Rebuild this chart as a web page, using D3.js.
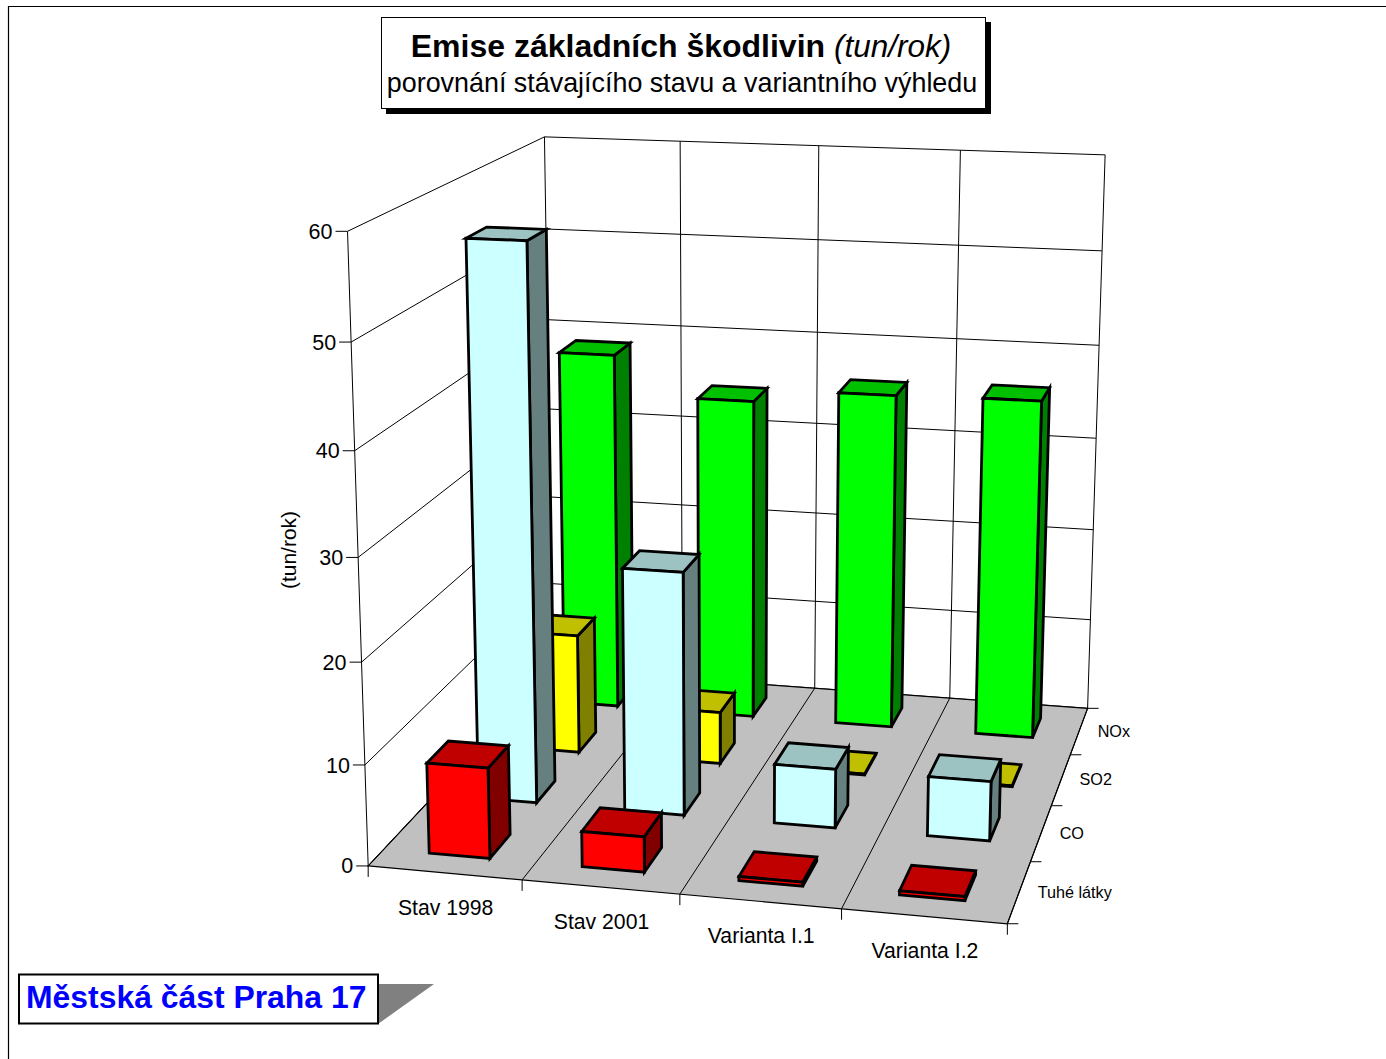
<!DOCTYPE html>
<html>
<head>
<meta charset="utf-8">
<style>
html, body { margin: 0; padding: 0; background: #fff; overflow: hidden; }
text { font-family: "Liberation Sans", Arial, sans-serif; fill: #000; }
</style>
<script src="https://cdn.jsdelivr.net/npm/d3@7"></script>
</head>
<body>
<div id="chart"></div>
<script>
// data
const categories = ["Stav 1998", "Stav 2001", "Varianta I.1", "Varianta I.2"];
const seriesNames = ["Tuhé látky", "CO", "SO2", "NOx"]; // front to back
const tuheLatky = [9, 3.5, 0.4, 0.4];
const co = [56.2, 24.7, 6, 6];
const so2 = [12.6, 5.5, 0.1, 0.1];
const nox = [38.8, 34.6, 36, 36.2];
const valueTicks = [0, 10, 20, 30, 40, 50, 60];
const seriesValues = [tuheLatky, co, so2, nox];

const config = {
    "red": ["#ff0000", "#c00000", "#800000"],
    "cyan": ["#ccffff", "#9cc2c2", "#668080"],
    "yellow": ["#ffff00", "#c0c000", "#808000"],
    "green": ["#00ff00", "#00c000", "#008000"]
};
const seriesColors = [config.red, config.cyan, config.yellow, config.green];

const width = 1386, height = 1059;
const svg = d3.select("#chart").append("svg")
    .attr("width", width)
    .attr("height", height)
    .style("display", "block");

// camera: where the box corners land on screen, [u, v, h, x, y]
const calib = [
    [0, 0, 0, 369, 866],
    [1, 0, 0, 1007, 924],
    [1, 1, 0, 1088, 708],
    [0, 1, 0, 552, 669],
    [0, 0, 1, 347, 231],
    [0, 1, 1, 545, 137],
    [1, 1, 1, 1105, 155]
];

// least squares for the 3x4 projection (last entry fixed to 1)
function solveProjection(pts) {
    const rows = [], rhs = [];
    pts.forEach(([u, v, h, x, y]) => {
        const X = x / 1000, Y = y / 1000;
        rows.push([u, v, h, 1, 0, 0, 0, 0, -X * u, -X * v, -X * h]); rhs.push(X);
        rows.push([0, 0, 0, 0, u, v, h, 1, -Y * u, -Y * v, -Y * h]); rhs.push(Y);
    });
    const n = 11;
    const A = d3.range(n).map(i => d3.range(n + 1).map(j =>
        d3.sum(rows, (r, k) => r[i] * (j < n ? r[j] : rhs[k]))));
    for (let i = 0; i < n; i++) {
        let best = i;
        for (let k = i + 1; k < n; k++) if (Math.abs(A[k][i]) > Math.abs(A[best][i])) best = k;
        [A[i], A[best]] = [A[best], A[i]];
        for (let k = 0; k < n; k++) {
            if (k === i) continue;
            const f = A[k][i] / A[i][i];
            for (let j = i; j <= n; j++) A[k][j] -= f * A[i][j];
        }
    }
    return d3.range(n).map(i => A[i][n] / A[i][i]);
}
const m = solveProjection(calib);
const project = (u, v, h) => {
    const w = m[8] * u + m[9] * v + m[10] * h + 1;
    return [
        1000 * (m[0] * u + m[1] * v + m[2] * h + m[3]) / w,
        1000 * (m[4] * u + m[5] * v + m[6] * h + m[7]) / w
    ];
};

// scales go to box coordinates 0..1, project() does the rest
const barPad = 0.6, depthPad = 0.58;
const xScale = d3.scaleBand().domain(categories).range([0, 1]).paddingInner(barPad).paddingOuter(barPad / 2);
const zScale = d3.scaleBand().domain(seriesNames).range([0, 1]).paddingInner(depthPad).paddingOuter(depthPad / 2);
const yScale = d3.scaleLinear().domain([0, 60]).range([0, 1]);
const xEdges = d3.range(categories.length + 1).map(i => i / categories.length);
const zEdges = d3.range(seriesNames.length + 1).map(i => i / seriesNames.length);

const polyPath = d3.line().curve(d3.curveLinearClosed);
const grid = svg.append("g")
    .attr("fill", "none")
    .attr("stroke", "#000")
    .attr("stroke-width", 1);
const seg = (a, b) => {
    grid.append("line")
        .attr("x1", a[0]).attr("y1", a[1])
        .attr("x2", b[0]).attr("y2", b[1]);
};

// outer frame of the page
svg.append("path")
    .attr("d", "M8.5,1059V6.5H1386")
    .attr("fill", "none")
    .attr("stroke", "#000")
    .attr("stroke-width", 1.2);

// walls
valueTicks.forEach(t => {
    const h = yScale(t);
    seg(project(0, 0, h), project(0, 1, h));
    seg(project(0, 1, h), project(1, 1, h));
    const p = project(0, 0, h);
    seg([p[0] - 12, p[1]], p);
    svg.append("text")
        .attr("x", p[0] - 15)
        .attr("y", p[1])
        .attr("dy", "0.35em")
        .attr("text-anchor", "end")
        .attr("font-size", 21.5)
        .text(t);
});
xEdges.forEach(u => seg(project(u, 1, 0), project(u, 1, 1)));
seg(project(0, 0, 0), project(0, 0, 1));

// floor
svg.append("path")
    .attr("d", polyPath([project(0, 0, 0), project(1, 0, 0), project(1, 1, 0), project(0, 1, 0)]))
    .attr("fill", "#c0c0c0")
    .attr("stroke", "#000")
    .attr("stroke-width", 1.2);

const floorLines = svg.append("g").attr("stroke", "#000").attr("stroke-width", 1);
xEdges.forEach(u => {
    const a = project(u, 0, 0), b = project(u, 1, 0);
    floorLines.append("line")
        .attr("x1", a[0]).attr("y1", a[1])
        .attr("x2", b[0]).attr("y2", b[1]);
    floorLines.append("line")
        .attr("x1", a[0]).attr("y1", a[1])
        .attr("x2", a[0]).attr("y2", a[1] + 11);
});
zEdges.forEach(v => {
    const a = project(1, v, 0);
    floorLines.append("line")
        .attr("x1", a[0]).attr("y1", a[1])
        .attr("x2", a[0] + 11).attr("y2", a[1]);
});

// category and series labels
categories.forEach((c, i) => {
    const u = xScale(c) + xScale.bandwidth() / 2;
    const p = project(u, 0, 0);
    svg.append("text")
        .attr("x", p[0] + 1)
        .attr("y", p[1] + 42)
        .attr("text-anchor", "middle")
        .attr("font-size", 21.2)
        .text(c);
});
seriesNames.forEach(s => {
    const p = project(1, zScale(s) + zScale.bandwidth() / 2, 0);
    svg.append("text")
        .attr("x", p[0] + 18.5)
        .attr("y", p[1])
        .attr("dy", "0.35em")
        .attr("font-size", 16.2)
        .text(s);
});

svg.append("text")
    .attr("transform", "translate(296,550)rotate(-90)")
    .attr("text-anchor", "middle")
    .attr("font-size", 21)
    .text("(tun/rok)");

// bars, back row first
const bars = svg.append("g")
    .attr("stroke", "#000")
    .attr("stroke-width", 2.8)
    .attr("stroke-linejoin", "miter");
d3.range(seriesNames.length - 1, -1, -1).forEach(si => {
    const z0 = zScale(seriesNames[si]), z1 = z0 + zScale.bandwidth();
    categories.forEach((c, ci) => {
        const x0 = xScale(c), x1 = x0 + xScale.bandwidth();
        const h = yScale(seriesValues[si][ci]);
        const col = seriesColors[si];
        const faces = [
            {pts: [[x1, z0, 0], [x1, z1, 0], [x1, z1, h], [x1, z0, h]], fill: col[2]},
            {pts: [[x0, z0, h], [x1, z0, h], [x1, z1, h], [x0, z1, h]], fill: col[1]},
            {pts: [[x0, z0, 0], [x1, z0, 0], [x1, z0, h], [x0, z0, h]], fill: col[0]}
        ];
        bars.selectAll(null)
            .data(faces)
            .enter()
            .append("path")
            .attr("d", d => polyPath(d.pts.map(q => project(q[0], q[1], q[2]))))
            .attr("fill", d => d.fill);
    });
});

// title box
svg.append("rect").attr("x", 386).attr("y", 22).attr("width", 605).attr("height", 92).attr("fill", "#000");
svg.append("rect").attr("x", 381.5).attr("y", 17.5).attr("width", 604).attr("height", 91)
    .attr("fill", "#fff").attr("stroke", "#000").attr("stroke-width", 1);
const title = svg.append("text").attr("x", 681).attr("y", 57).attr("text-anchor", "middle").attr("font-size", 32);
title.append("tspan").attr("font-weight", "bold").text("Emise základních škodlivin ");
title.append("tspan").attr("font-style", "italic").attr("font-size", 31.5).text("(tun/rok)");
svg.append("text")
    .attr("x", 682).attr("y", 92)
    .attr("text-anchor", "middle")
    .attr("font-size", 26.9)
    .text("porovnání stávajícího stavu a variantního výhledu");

// district label
svg.append("path")
    .attr("d", "M378,984H434L378,1024Z")
    .attr("fill", "#808080");
svg.append("rect").attr("x", 19).attr("y", 974.5).attr("width", 359).attr("height", 49)
    .attr("fill", "#fff").attr("stroke", "#000").attr("stroke-width", 2);
svg.append("text")
    .attr("x", 26).attr("y", 1008)
    .attr("font-size", 31.9)
    .attr("font-weight", "bold")
    .style("fill", "#0000ff")
    .text("Městská část Praha 17");
</script>
</body>
</html>
